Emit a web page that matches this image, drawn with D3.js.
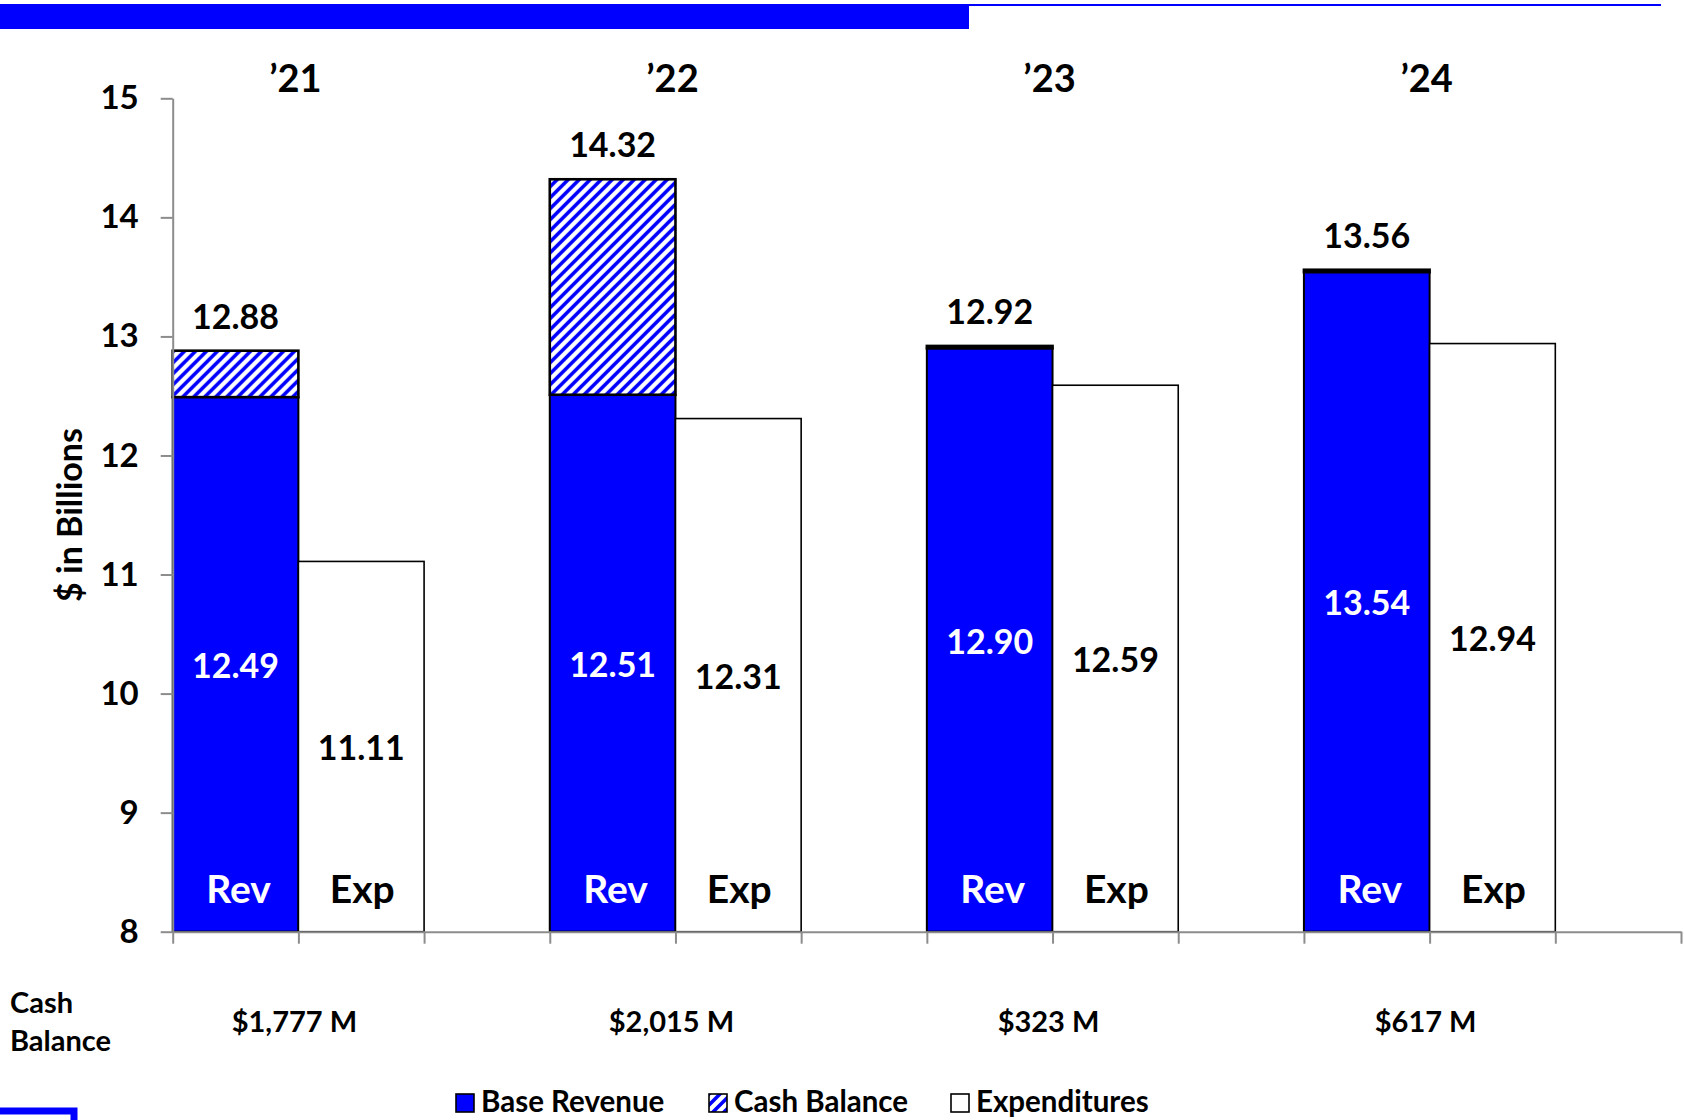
<!DOCTYPE html>
<html>
<head>
<meta charset="utf-8">
<script src="https://cdn.jsdelivr.net/npm/d3@7"></script>
<style>
  body { margin: 0; background: #fff; }
  svg { display: block; font-family: Lato, "Open Sans", sans-serif; font-weight: 700; }
</style>
</head>
<body>
<svg id="chart" width="1684" height="1120"></svg>
<script>
// data
const years = ["\u201921", "\u201922", "\u201923", "\u201924"];
const baseRevenue = [12.49, 12.51, 12.90, 13.54];
const totalWithCash = [12.88, 14.32, 12.92, 13.56];
const expenditures = [11.11, 12.31, 12.59, 12.94];
const cashBalanceText = ["$1,777 M", "$2,015 M", "$323 M", "$617 M"];
const yTicks = [8, 9, 10, 11, 12, 13, 14, 15];
const legendItems = ["Base Revenue", "Cash Balance", "Expenditures"];

const blue = "#0000ff";
const svg = d3.select("#chart");

const plot = { left: 172.7, right: 1681, top: 98.3, bottom: 931.7 };

const y = d3.scaleLinear().domain([8, 15]).range([plot.bottom, plot.top]);
const x0 = d3.scaleBand().domain(years)
  .range([plot.left, plot.right])
  .paddingInner(1 / 3)
  .paddingOuter(1 / 6)
  .align(0);
const x1 = d3.scaleBand().domain(["Rev", "Exp"]).range([0, x0.bandwidth()]);
const slots = d3.scaleLinear().domain([0, 12]).range([plot.left, plot.right]);

// hatch for cash balance
const defs = svg.append("defs");
const hs = 11;
const hatch = defs.append("pattern")
  .attr("id", "hatch")
  .attr("patternUnits", "userSpaceOnUse")
  .attr("width", hs)
  .attr("height", hs);
hatch.append("rect").attr("width", hs).attr("height", hs).attr("fill", "#fff");
hatch.append("path")
  .attr("d", `M-3,3 L3,-3 M0,${hs} L${hs},0 M${hs - 3},${hs + 3} L${hs + 3},${hs - 3}`)
  .attr("stroke", blue)
  .attr("stroke-width", 3.6);

// header decoration
svg.append("rect").attr("x", 0).attr("y", 4).attr("width", 969).attr("height", 25).attr("fill", blue);
svg.append("rect").attr("x", 0).attr("y", 4).attr("width", 1661).attr("height", 2).attr("fill", blue);

// bottom-left box
svg.append("rect")
  .attr("x", -6).attr("y", 1111).attr("width", 80).attr("height", 30)
  .attr("fill", "none").attr("stroke", blue).attr("stroke-width", 7);

const groups = svg.append("g").selectAll("g")
  .data(years)
  .join("g")
  .attr("transform", d => `translate(${x0(d)},0)`);

// revenue bars
groups.append("rect")
  .attr("x", x1("Rev"))
  .attr("y", (d, i) => y(baseRevenue[i]))
  .attr("width", x1.bandwidth())
  .attr("height", (d, i) => y(8) - y(baseRevenue[i]))
  .attr("fill", blue)
  .attr("stroke", "#000")
  .attr("stroke-width", 2);

// cash balance segment
groups.append("rect")
  .attr("x", x1("Rev"))
  .attr("y", (d, i) => y(totalWithCash[i]))
  .attr("width", x1.bandwidth())
  .attr("height", (d, i) => y(baseRevenue[i]) - y(totalWithCash[i]))
  .attr("fill", "url(#hatch)")
  .attr("stroke", "#000")
  .attr("stroke-width", 2.6);

// expenditure bars
groups.append("rect")
  .attr("x", x1("Exp"))
  .attr("y", (d, i) => y(expenditures[i]))
  .attr("width", x1.bandwidth())
  .attr("height", (d, i) => y(8) - y(expenditures[i]))
  .attr("fill", "#fff")
  .attr("stroke", "#000")
  .attr("stroke-width", 1.6);

// value labels
groups.append("text")
  .attr("x", x1("Rev") + x1.bandwidth() / 2)
  .attr("y", (d, i) => y((8 + baseRevenue[i]) / 2))
  .attr("text-anchor", "middle")
  .attr("dominant-baseline", "central")
  .attr("fill", "#fff")
  .attr("font-size", 34)
  .text((d, i) => baseRevenue[i].toFixed(2));

groups.append("text")
  .attr("x", x1("Exp") + x1.bandwidth() / 2)
  .attr("y", (d, i) => y((8 + expenditures[i]) / 2))
  .attr("text-anchor", "middle")
  .attr("dominant-baseline", "central")
  .attr("fill", "#000")
  .attr("font-size", 34)
  .text((d, i) => expenditures[i].toFixed(2));

groups.append("text")
  .attr("x", x1("Rev") + x1.bandwidth() / 2)
  .attr("y", (d, i) => y(totalWithCash[i]) - 22)
  .attr("text-anchor", "middle")
  .attr("fill", "#000")
  .attr("font-size", 34)
  .text((d, i) => totalWithCash[i].toFixed(2));

// Rev / Exp tags
groups.append("text")
  .attr("x", x1("Rev") + x1.bandwidth() / 2 + 3)
  .attr("y", 903)
  .attr("text-anchor", "middle")
  .attr("fill", "#fff")
  .attr("font-size", 39)
  .text("Rev");

groups.append("text")
  .attr("x", x1("Exp") + x1.bandwidth() / 2 + 1)
  .attr("y", 903)
  .attr("text-anchor", "middle")
  .attr("fill", "#000")
  .attr("font-size", 39)
  .text("Exp");

// year labels
groups.append("text")
  .attr("x", x0.bandwidth() / 2 - 3)
  .attr("y", 92)
  .attr("text-anchor", "middle")
  .attr("font-size", 38)
  .text(d => d);

// cash balance row
groups.append("text")
  .attr("x", x0.bandwidth() / 2 - 4)
  .attr("y", 1032)
  .attr("text-anchor", "middle")
  .attr("font-size", 29)
  .text((d, i) => cashBalanceText[i]);

svg.append("text").attr("x", 10).attr("y", 1013).attr("font-size", 29).text("Cash");
svg.append("text").attr("x", 10).attr("y", 1051).attr("font-size", 29).text("Balance");

// axes
const yAxis = svg.append("g")
  .attr("transform", `translate(${plot.left},0)`)
  .call(d3.axisLeft(y).tickValues(yTicks).tickFormat(d3.format("d")).tickSizeInner(12).tickSizeOuter(0).tickPadding(22));

const xAxis = svg.append("g")
  .attr("transform", `translate(0,${plot.bottom})`)
  .call(d3.axisBottom(slots).tickValues(d3.range(13)).tickFormat("").tickSizeInner(12).tickSizeOuter(0));

[yAxis, xAxis].forEach(a => {
  a.select(".domain").attr("stroke", "#8c8c8c").attr("stroke-width", 2);
  a.selectAll(".tick line").attr("stroke", "#8c8c8c").attr("stroke-width", 2);
});
yAxis.selectAll(".tick text")
  .attr("fill", "#000")
  .attr("font-size", 33)
  .attr("font-family", "Lato, sans-serif")
  .attr("font-weight", 700);

svg.append("text")
  .attr("transform", "translate(68,515) rotate(-90)")
  .attr("text-anchor", "middle")
  .attr("dominant-baseline", "central")
  .attr("font-size", 34)
  .text("$ in Billions");

// legend
const legendX = [456, 709, 951];
const legend = svg.append("g").selectAll("g")
  .data(legendItems)
  .join("g")
  .attr("transform", (d, i) => `translate(${legendX[i]},1094)`);

legend.append("rect")
  .attr("width", 18)
  .attr("height", 18)
  .attr("fill", (d, i) => [blue, "url(#hatch)", "#fff"][i])
  .attr("stroke", "#000")
  .attr("stroke-width", 1.6);

legend.append("text")
  .attr("x", 25)
  .attr("y", 18)
  .attr("font-size", 29.5)
  .text(d => d);
</script>
</body>
</html>
